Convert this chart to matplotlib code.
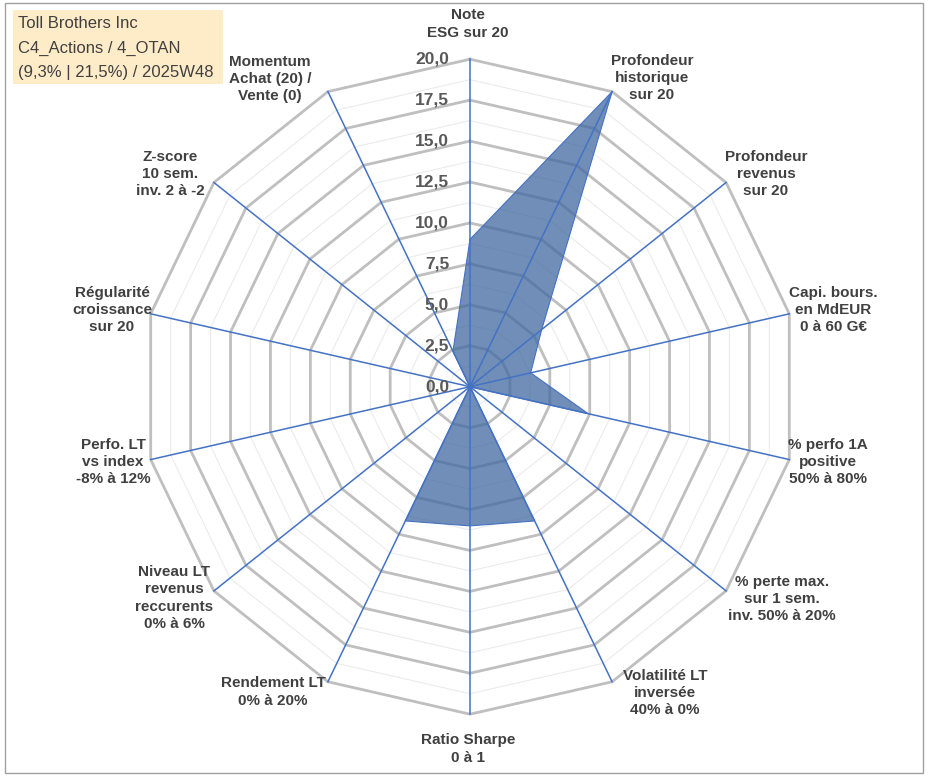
import numpy as np
import matplotlib
matplotlib.use("Agg")
import matplotlib.pyplot as plt
from matplotlib.transforms import ScaledTranslation
from matplotlib.patches import Rectangle

# ---------------- data ----------------
categories = [
    "Note\nESG sur 20",
    "Profondeur\nhistorique\nsur 20",
    "Profondeur\nrevenus\nsur 20",
    "Capi. bours.\nen MdEUR\n0 à 60 G€",
    "% perfo 1A\npositive\n50% à 80%",
    "% perte max.\nsur 1 sem.\ninv. 50% à 20%",
    "Volatilité LT\ninversée\n40% à 0%",
    "Ratio Sharpe\n0 à 1",
    "Rendement LT\n0% à 20%",
    "Niveau LT\nrevenus\nreccurents\n0% à 6%",
    "Perfo. LT\nvs index\n-8% à 12%",
    "Régularité\ncroissance\nsur 20",
    "Z-score\n10 sem.\ninv. 2 à -2",
    "Momentum\nAchat (20) /\nVente (0)",
]
values = [9.0, 20.0, 5.6, 3.8, 7.4, 0.0, 9.1, 8.5, 9.1, 0.0, 0.0, 0.0, 0.0, 2.4]
r_ticks = [0.0, 2.5, 5.0, 7.5, 10.0, 12.5, 15.0, 17.5, 20.0]
r_tick_labels = ["0,0", "2,5", "5,0", "7,5", "10,0", "12,5", "15,0", "17,5", "20,0"]
title_lines = ["Toll Brothers Inc", "C4_Actions / 4_OTAN", "(9,3% | 21,5%) / 2025W48"]

# ---------------- layout ----------------
W, H = 933, 776
DPI = 100
CX, CY, R = 470.0, 386.7, 327.5          # centre / radius in pixels
label_px = [(468, 24), (652, 78), (766, 174), (833, 310), (828, 462),
            (782, 599), (665, 693), (468, 749), (273, 692), (174, 598),
            (113, 462), (112, 310), (170, 174), (270, 79)]

GRID_MAJOR = "#BFBFBF"
GRID_MINOR = "#EBEBEB"
SPOKE = "#4472C4"
TEXT = "#404040"

fig = plt.figure(figsize=(W / DPI, H / DPI), dpi=DPI)
fig.patch.set_facecolor("white")

ax = fig.add_axes([(CX - R) / W, 1 - (CY + R) / H, 2 * R / W, 2 * R / H],
                  projection="polar")
ax.set_theta_zero_location("N")
ax.set_theta_direction(-1)
ax.set_ylim(0, 20)
ax.set_axis_off()

n = len(categories)
theta = np.linspace(0, 2 * np.pi, n, endpoint=False)
theta_c = np.append(theta, theta[0])

# polygon grid rings
for r in np.arange(1.25, 20.001, 1.25):
    major = abs(r / 2.5 - round(r / 2.5)) < 1e-9
    ax.plot(theta_c, [r] * (n + 1),
            color=GRID_MAJOR if major else GRID_MINOR,
            lw=2.0 if major else 0.8, zorder=2 if major else 1, clip_on=False)

# data polygon
vals_c = np.append(values, values[0])
ax.fill(theta_c, vals_c, facecolor="#40699F", alpha=0.75, edgecolor="none",
        zorder=3, clip_on=False)
ax.plot(theta_c, vals_c, color=SPOKE, lw=0.8, zorder=4, clip_on=False)

# spokes
for t in theta:
    ax.plot([t, t], [0, 20], color=SPOKE, lw=1.1, zorder=5, clip_on=False)

# radial tick labels
off = ScaledTranslation(-21 / DPI, 0, fig.dpi_scale_trans)
for r, lab in zip(r_ticks, r_tick_labels):
    ax.text(0, r, lab, transform=ax.transData + off, ha="right", va="center",
            fontsize=12.5, fontweight="bold", color="#595959",
            family="Liberation Sans", zorder=6, clip_on=False)

# category labels
for lab, (px, py) in zip(categories, label_px):
    fig.text(px / W, 1 - py / H, lab, ha="center", va="center",
             multialignment="center", fontsize=11, fontweight="bold",
             color=TEXT, family="Liberation Sans", linespacing=1.3)

# title box
fig.patches.append(Rectangle((13 / W, 1 - 84 / H), (223 - 13) / W, (84 - 10) / H,
                             transform=fig.transFigure, facecolor="#FEEBC8",
                             edgecolor="none", zorder=0))
for i, line in enumerate(title_lines):
    fig.text(18 / W, 1 - (24 + 24.5 * i) / H, line, ha="left", va="center",
             fontsize=12, color="#404040", family="Liberation Sans")

# outer frame
fig.patches.append(Rectangle((5 / W, 1 - 773 / H), (923 - 5) / W, (773 - 3) / H,
                             transform=fig.transFigure, facecolor="none",
                             edgecolor="#A0A0A0", lw=1.0, zorder=0))

fig.savefig("out.png", dpi=DPI, facecolor="white")
